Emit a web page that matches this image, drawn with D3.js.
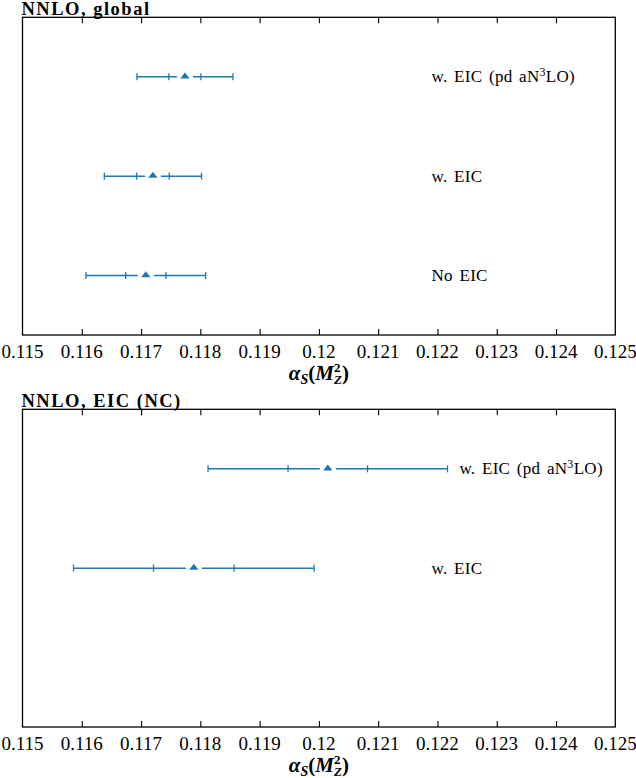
<!DOCTYPE html>
<html>
<head>
<meta charset="utf-8">
<script src="https://cdn.jsdelivr.net/npm/d3@7"></script>
<style>
  body { margin: 0; background: #fff; }
</style>
</head>
<body>
<div id="chart"></div>
<script>
// ticks shared by both panels
const tickValues = [0.115, 0.116, 0.117, 0.118, 0.119, 0.12, 0.121, 0.122, 0.123, 0.124, 0.125]
const tickLabels = ['0.115', '0.116', '0.117', '0.118', '0.119', '0.12', '0.121', '0.122', '0.123', '0.124', '0.125']

// panel 1: NNLO, global
const globalTitle = 'NNLO, global'
const globalLabels = ['w. EIC (pd aN^3LO)', 'w. EIC', 'No EIC']
const globalRows = [3, 2, 1]
const globalCentral = [0.11774, 0.11720, 0.11708]
const globalInner = [0.00027, 0.000275, 0.00034]
const globalOuter = [0.00081, 0.00082, 0.00101]

// panel 2: NNLO, EIC (NC)
const eicTitle = 'NNLO, EIC (NC)'
const eicLabels = ['w. EIC (pd aN^3LO)', 'w. EIC']
const eicRows = [3, 2]
const eicCentral = [0.12015, 0.11789]
const eicInner = [0.00067, 0.00068]
const eicOuter = [0.00202, 0.00203]

const W = 636
const H = 778
const BLUE = '#1f77b4'
const FONT = 'Liberation Serif'
const margin = { left: 22.5, right: 20.7 }
const panelTop = [17.3, 409.3]
const panelH = 317.7

const svg = d3.select('#chart').append('svg')
  .attr('width', W)
  .attr('height', H)

const x = d3.scaleLinear()
  .domain([0.115, 0.125])
  .range([margin.left, W - margin.right])

function drawPanel (top, title, labels, rows, central, inner, outer) {
  const g = svg.append('g')
  const y = d3.scaleLinear().domain([0.4, 3.6]).range([top + panelH, top])

  const data = labels.map((l, i) => ({
    label: l,
    row: rows[i],
    c: central[i],
    inner: inner[i],
    outer: outer[i]
  }))

  // frame
  g.append('rect')
    .attr('x', x(0.115))
    .attr('y', top)
    .attr('width', x(0.125) - x(0.115))
    .attr('height', panelH)
    .attr('fill', 'none')
    .attr('stroke', '#000')
    .attr('stroke-width', 1.3)

  // inward ticks, bottom and top
  const innerTicks = tickValues.slice(1, -1)
  g.append('g')
    .attr('transform', `translate(0, ${top + panelH})`)
    .call(d3.axisBottom(x).tickValues(innerTicks).tickSize(-6).tickFormat(''))
    .call(a => a.select('.domain').remove())
    .call(a => a.selectAll('line').attr('stroke-width', 1.1))
  g.append('g')
    .attr('transform', `translate(0, ${top})`)
    .call(d3.axisTop(x).tickValues(innerTicks).tickSize(-6).tickFormat(''))
    .call(a => a.select('.domain').remove())
    .call(a => a.selectAll('line').attr('stroke-width', 1.1))

  // tick labels
  g.selectAll('.tick-label')
    .data(tickValues)
    .enter()
    .append('text')
    .attr('class', 'tick-label')
    .attr('font-family', FONT)
    .attr('font-size', 19)
    .attr('x', d => x(d))
    .attr('y', top + panelH + 23)
    .attr('text-anchor', 'middle')
    .text((d, i) => tickLabels[i])

  // axis title  alpha_S(M_Z^2)
  const at = g.append('text')
    .attr('font-family', FONT)
    .attr('font-size', 21)
    .attr('font-weight', 'bold')
    .attr('font-style', 'italic')
    .attr('x', (x(0.115) + x(0.125)) / 2)
    .attr('y', top + panelH + 45)
    .attr('text-anchor', 'middle')
  at.append('tspan').text('α')
  at.append('tspan').attr('font-size', 14).attr('dy', 4).text('S')
  at.append('tspan').attr('dy', -4).attr('font-style', 'normal').text('(')
  at.append('tspan').text('M')
  at.append('tspan').attr('font-size', 13).attr('dy', -8).attr('font-style', 'normal').text('2')
  at.append('tspan').attr('font-size', 13).attr('dx', -6.5).attr('dy', 12).text('Z')
  at.append('tspan').attr('dy', -4).attr('font-style', 'normal').text(')')

  // title
  g.append('text')
    .attr('font-family', FONT)
    .attr('font-weight', 'bold')
    .attr('font-size', 18.5)
    .attr('letter-spacing', 1.5)
    .attr('x', 21.5)
    .attr('y', top - 2.5)
    .text(title)

  // error bars
  const rowsG = g.selectAll('.bar')
    .data(data)
    .enter()
    .append('g')
    .attr('class', 'bar')
    .attr('transform', d => `translate(0, ${y(d.row)})`)

  const gap = 8
  rowsG.append('line')
    .attr('x1', d => x(d.c - d.outer))
    .attr('x2', d => x(d.c) - gap)
    .attr('stroke', BLUE)
    .attr('stroke-width', 1.5)
  rowsG.append('line')
    .attr('x1', d => x(d.c) + gap)
    .attr('x2', d => x(d.c + d.outer))
    .attr('stroke', BLUE)
    .attr('stroke-width', 1.5)

  const capPos = d => [d.c - d.outer, d.c - d.inner, d.c + d.inner, d.c + d.outer]
  rowsG.selectAll('.cap')
    .data(d => capPos(d))
    .enter()
    .append('line')
    .attr('class', 'cap')
    .attr('x1', v => x(v))
    .attr('x2', v => x(v))
    .attr('y1', -3.5)
    .attr('y2', 3.5)
    .attr('stroke', BLUE)
    .attr('stroke-width', 1.3)

  rowsG.append('path')
    .attr('d', d3.symbol(d3.symbolTriangle).size(34))
    .attr('transform', d => `translate(${x(d.c)}, -0.3) scale(1.05, 0.78)`)
    .attr('fill', BLUE)

  // labels
  const lab = rowsG.append('text')
    .attr('font-family', FONT)
    .attr('font-size', 17)
    .attr('letter-spacing', 0.3)
    .attr('word-spacing', 2)
    .attr('x', d => x(Math.max(0.1219, d.c + d.outer + 0.0002)))
    .attr('y', 5.5)
  lab.each(function (d) {
    const t = d3.select(this)
    const parts = d.label.split('^')
    if (parts.length === 1) {
      t.text(d.label)
    } else {
      t.append('tspan').text(parts[0])
      t.append('tspan').attr('font-size', 12).attr('dy', -6).text(parts[1][0])
      t.append('tspan').attr('dy', 6).text(parts[1].slice(1))
    }
  })
}

drawPanel(panelTop[0], globalTitle, globalLabels, globalRows, globalCentral, globalInner, globalOuter)
drawPanel(panelTop[1], eicTitle, eicLabels, eicRows, eicCentral, eicInner, eicOuter)
</script>
</body>
</html>
